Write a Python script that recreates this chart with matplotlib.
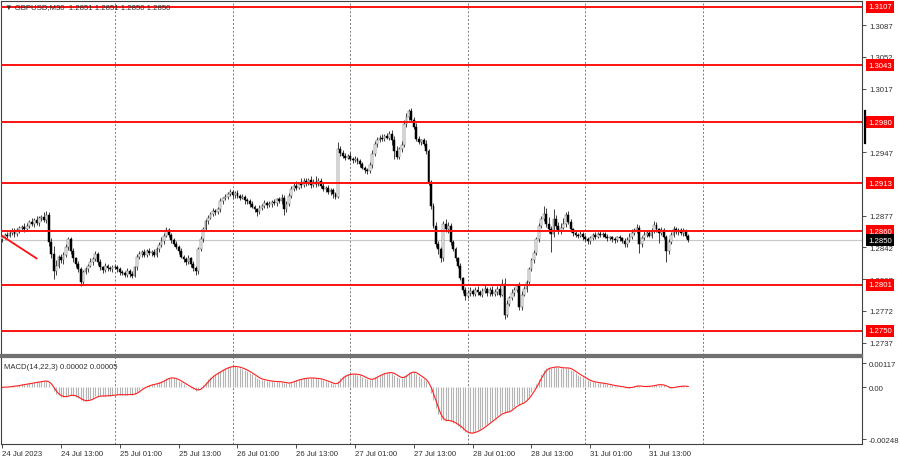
import numpy as np
import matplotlib.pyplot as plt
from matplotlib.transforms import blended_transform_factory

plt.rcParams['font.family'] = ['Liberation Sans', 'DejaVu Sans']

title = '\u25bc GBPUSD,M30  1.2851 1.2851 1.2850 1.2850'
macd_title = 'MACD(14,22,3) 0.00002 0.00005'

# horizontal levels (red) and current price
levels = [1.3107, 1.3043, 1.2980, 1.2913, 1.2860, 1.2801, 1.2750]
last_price = 1.2850
scale_ticks = [1.3087, 1.3052, 1.3017, 1.2947, 1.2877, 1.2842, 1.2807, 1.2772, 1.2737]

# time axis (bar index)
time_pos = [0, 24, 48, 72, 96, 120, 144, 168, 192, 216, 240, 264]
time_labels = ['24 Jul 2023', '24 Jul 13:00', '25 Jul 01:00', '25 Jul 13:00',
               '26 Jul 01:00', '26 Jul 13:00', '27 Jul 01:00', '27 Jul 13:00',
               '28 Jul 01:00', '28 Jul 13:00', '31 Jul 01:00', '31 Jul 13:00']
day_starts = [46, 94, 142, 190, 238, 286]

# short trend line at the left
trend_x = [0, 14]
trend_y = [1.28546, 1.2830]
# black tick mark on price scale
edge_mark = [1.2957, 1.2992]

macd_ticks = [0.00117, 0.0, -0.00248]
macd_tick_labels = ['0.00117', '0.00', '-0.00248']

# closes in pips above 1.2000
close_pips = [
    853, 856, 855, 858, 860, 857, 861, 863, 865, 862,
    866, 870, 868, 872, 869, 874, 876, 872, 878, 848,
    835, 816, 822, 831, 828, 834, 842, 851, 838, 830,
    824, 818, 804, 815, 818, 822, 826, 829, 835, 826,
    820, 817, 822, 819, 818, 821, 820, 818, 815, 814,
    812, 816, 813, 811, 820, 831, 835, 837, 834, 838,
    836, 837, 834, 840, 845, 849, 855, 861, 856, 850,
    846, 843, 838, 832, 829, 826, 830, 824, 819, 816,
    840, 851, 862, 871, 875, 879, 882, 881, 884, 893,
    896, 898, 901, 903, 900, 902, 899, 897, 898, 894,
    893, 890, 887, 884, 881, 886, 888, 891, 889, 890,
    892, 891, 895, 893, 897, 884, 890, 899, 906, 910,
    908, 912, 911, 915, 913, 916, 911, 914, 912, 915,
    910, 906, 908, 903, 905, 901, 898, 950, 946, 943,
    941, 943, 940, 938, 940, 937, 934, 930, 927, 926,
    933, 945, 956, 960, 963, 962, 965, 963, 967, 960,
    948, 942, 950, 955, 978, 986, 992, 983, 975, 962,
    958, 960, 956, 948, 914, 888, 866, 846, 840, 830,
    868, 862, 866, 848, 840, 830, 822, 808, 795, 788,
    792, 794, 791, 795, 793, 790, 794, 796, 792, 795,
    791, 793, 796, 790, 802, 768, 780, 786, 792, 795,
    799, 776, 790, 796, 804, 818, 828, 836, 851, 866,
    873, 879, 868, 862, 857, 873, 866, 860, 864, 868,
    878, 870, 862, 858, 856, 855, 857, 853, 851, 849,
    852, 856, 854, 857, 856, 857, 854, 852, 853, 851,
    850, 853, 852, 849, 846, 850, 854, 858, 861, 864,
    846, 852, 856, 858, 855, 860, 867, 862, 858, 861,
    854, 838, 848, 856, 862, 859, 861, 858, 860, 855, 850,
]
first_open = 851

wick_up = [
    3, 2, 3, 2, 3, 4, 2, 3, 2, 4,
    3, 2, 4, 3, 5, 3, 2, 5, 4, 3,
    4, 9, 6, 3, 4, 3, 4, 3, 2, 3,
    2, 3, 3, 2, 3, 2, 4, 3, 3, 2,
    3, 2, 3, 2, 3, 2, 2, 3, 2, 2,
    2, 3, 2, 3, 2, 4, 3, 2, 3, 2,
    3, 2, 3, 2, 3, 4, 3, 4, 3, 2,
    2, 3, 2, 3, 2, 3, 4, 2, 3, 3,
    3, 4, 3, 2, 3, 2, 3, 2, 3, 3,
    2, 3, 2, 3, 2, 2, 3, 2, 3, 2,
    3, 2, 3, 2, 2, 3, 2, 3, 2, 3,
    2, 3, 2, 3, 4, 3, 3, 3, 4, 3,
    5, 2, 6, 3, 4, 2, 5, 3, 7, 3,
    3, 4, 2, 3, 2, 3, 2, 8, 4, 3,
    3, 2, 4, 2, 3, 2, 3, 2, 2, 3,
    3, 4, 3, 4, 3, 4, 2, 3, 3, 4,
    5, 6, 3, 4, 5, 4, 3, 4, 3, 4,
    3, 2, 3, 4, 3, 2, 3, 4, 3, 3,
    3, 5, 4, 3, 2, 3, 2, 3, 2, 3,
    3, 4, 2, 3, 4, 2, 3, 5, 2, 3,
    4, 3, 3, 5, 5, 6, 4, 3, 4, 3,
    3, 5, 4, 3, 2, 3, 2, 3, 2, 3,
    4, 9, 6, 8, 4, 11, 5, 4, 5, 6,
    3, 4, 3, 2, 3, 2, 3, 2, 3, 2,
    3, 2, 3, 2, 3, 2, 2, 3, 2, 2,
    3, 2, 3, 2, 3, 3, 4, 4, 3, 4,
    3, 3, 4, 3, 2, 3, 4, 3, 2, 4,
    3, 2, 3, 3, 4, 3, 3, 2, 4, 2, 2,
]

wick_dn = [
    3, 2, 3, 2, 2, 3, 2, 3, 2, 3,
    2, 3, 2, 3, 2, 3, 3, 2, 3, 4,
    5, 9, 4, 3, 3, 4, 2, 3, 3, 4,
    3, 3, 4, 3, 2, 3, 2, 3, 2, 3,
    3, 3, 2, 3, 2, 3, 2, 3, 3, 2,
    3, 2, 3, 3, 2, 3, 2, 3, 3, 2,
    2, 3, 3, 2, 3, 2, 3, 2, 3, 3,
    2, 3, 3, 2, 3, 3, 2, 3, 3, 4,
    3, 2, 3, 2, 3, 2, 2, 3, 2, 3,
    3, 2, 3, 2, 3, 3, 2, 3, 2, 4,
    3, 3, 2, 3, 4, 2, 3, 2, 3, 2,
    3, 2, 3, 2, 3, 6, 3, 2, 3, 2,
    3, 2, 3, 2, 3, 2, 3, 2, 3, 2,
    3, 2, 3, 2, 3, 4, 3, 2, 3, 2,
    3, 2, 3, 3, 2, 3, 3, 2, 3, 3,
    2, 3, 2, 3, 2, 3, 3, 2, 3, 5,
    8, 3, 2, 3, 2, 3, 3, 2, 3, 3,
    2, 3, 2, 3, 3, 4, 3, 3, 5, 4,
    3, 3, 4, 3, 2, 3, 3, 2, 3, 4,
    2, 3, 2, 3, 3, 2, 3, 2, 3, 3,
    3, 2, 3, 3, 2, 5, 3, 3, 2, 3,
    2, 3, 3, 2, 3, 3, 2, 3, 2, 3,
    3, 2, 3, 4, 20, 3, 4, 3, 3, 2,
    3, 2, 3, 3, 2, 3, 2, 3, 2, 3,
    3, 2, 3, 2, 3, 3, 2, 3, 2, 3,
    3, 2, 3, 2, 3, 3, 2, 3, 2, 3,
    10, 3, 2, 3, 2, 3, 2, 3, 11, 2,
    3, 12, 3, 2, 3, 2, 3, 2, 3, 3, 2,
]

close = 1.2 + np.array(close_pips) / 10000
opn = np.r_[1.2 + first_open / 10000, close[:-1]]
high = np.maximum(opn, close) + np.array(wick_up) / 10000
low = np.minimum(opn, close) - np.array(wick_dn) / 10000
x = np.arange(len(close))


def ema(v, n):
    a = 2 / (n + 1)
    out = np.empty_like(v)
    out[0] = v[0]
    for k in range(1, len(v)):
        out[k] = a * v[k] + (1 - a) * out[k - 1]
    return out


macd = ema(close, 14) - ema(close, 22)
signal = np.convolve(macd, np.ones(3) / 3, mode='full')[:len(macd)]
signal[:2] = macd[:2]

W, H = 900, 460
fig = plt.figure(figsize=(9, 4.6), dpi=100)
ax = fig.add_axes([1 / W, 1 - 356 / H, 861 / W, 354 / H])
ax2 = fig.add_axes([1 / W, 1 - 445 / H, 861 / W, 87 / H])

xlim = (-0.49, 350.9)
txt_col = '#303030'
fs = 5.6

# main price panel
ax.set_xlim(*xlim)
ax.set_ylim(1.27235, 1.31136)
for d in day_starts:
    ax.axvline(d, color='#7a7a7a', ls=(0, (2, 2)), lw=0.7, zorder=0)
    ax2.axvline(d, color='#7a7a7a', ls=(0, (2, 2)), lw=0.7, zorder=0)
ax.axhline(last_price, color='#c8c8c8', lw=0.8, zorder=1)
for lv in levels:
    ax.axhline(lv, color='#ff1010', lw=1.4, zorder=4)
ax.plot(trend_x, trend_y, color='#ff1010', lw=1.3, zorder=4)

ax.vlines(x, low, high, color='#202020', lw=0.6, zorder=2)
body = np.maximum(np.abs(close - opn), 0.00002)
bull = close >= opn
ax.bar(x[bull], body[bull], bottom=np.minimum(opn, close)[bull], width=0.75,
       color='white', edgecolor='#505050', lw=0.35, zorder=3)
ax.bar(x[~bull], body[~bull], bottom=np.minimum(opn, close)[~bull], width=0.75,
       color='black', edgecolor='black', lw=0.35, zorder=3)

ax.yaxis.tick_right()
ax.set_yticks(scale_ticks)
ax.set_yticklabels(['%.4f' % t for t in scale_ticks])
ax.tick_params(axis='y', length=3, width=0.6, direction='out', labelsize=fs,
               colors=txt_col, pad=2)
ax.set_xticks([])

tr = blended_transform_factory(ax.transAxes, ax.transData)
for lv in levels:
    ax.text(1.007, lv, '%.4f' % lv, transform=tr, fontsize=fs, color='white',
            va='center', ha='left', zorder=6, clip_on=False,
            bbox=dict(boxstyle='square,pad=0.3', fc='#ff0000', ec='none'))
ax.text(1.007, last_price, '%.4f' % last_price, transform=tr, fontsize=fs,
        color='white', va='center', ha='left', zorder=6, clip_on=False,
        bbox=dict(boxstyle='square,pad=0.3', fc='black', ec='none'))
ax.plot([1.004, 1.004], edge_mark, transform=tr, color='black', lw=1.6,
        clip_on=False, zorder=6)

for s in ax.spines.values():
    s.set_color('#404040')
    s.set_linewidth(0.8)
ax.spines['bottom'].set_color('#707070')
ax.spines['bottom'].set_linewidth(1.6)

fig.text(5 / W, 1 - 7.5 / H, title, fontsize=fs, color=txt_col, va='center',
         ha='left', zorder=1)

# MACD panel
ax2.set_xlim(*xlim)
ax2.set_ylim(-0.00272, 0.00146)
ax2.vlines(x, 0, macd, color='#b4b4b4', lw=0.8, zorder=2)
ax2.plot(x, signal, color='#ff2020', lw=0.8, zorder=3)
ax2.yaxis.tick_right()
ax2.set_yticks(macd_ticks)
ax2.set_yticklabels(macd_tick_labels)
ax2.tick_params(axis='y', length=3, width=0.6, direction='out', labelsize=fs,
                colors=txt_col, pad=2)
ax2.set_xticks(time_pos)
ax2.set_xticklabels(time_labels)
ax2.tick_params(axis='x', length=3, width=0.6, direction='out', labelsize=fs,
                colors=txt_col, pad=1)
for lbl in ax2.get_xticklabels():
    lbl.set_ha('left')
ax2.text(0.004, 0.93, macd_title, transform=ax2.transAxes, fontsize=fs,
         color=txt_col, va='top', ha='left')
for s in ax2.spines.values():
    s.set_color('#404040')
    s.set_linewidth(0.8)
ax2.spines['top'].set_color('#707070')
ax2.spines['top'].set_linewidth(1.6)

fig.savefig('out.png', dpi=100, facecolor='white')
